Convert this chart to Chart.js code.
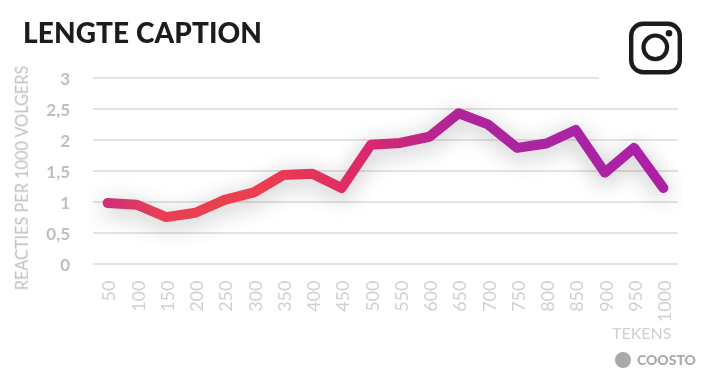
<!DOCTYPE html>
<html>
<head>
<meta charset="utf-8">
<title>Lengte caption</title>
<script src="https://cdn.jsdelivr.net/npm/chart.js@4"></script>
<style>
  html, body { margin: 0; padding: 0; background: #fff; }
  #wrap { position: relative; width: 713px; height: 379px; overflow: hidden; font-family: Lato, sans-serif; }
  #myChart { position: absolute; left: 0; top: 0; }
  .label { position: absolute; white-space: nowrap; line-height: 1; }
  #title { left: 23px; top: 18px; font-size: 28px; font-weight: 900; letter-spacing: 0.1px; color: #1d1b1e; }
  #yTitle { left: 22px; top: 178px; font-size: 16.3px; color: #bfbec1; transform: translate(-50%, -50%) rotate(-90deg); }
  #xTitle { left: 612px; top: 325px; font-size: 16px; color: #d0cfd1; }
  #brand { left: 637px; top: 353px; font-size: 14px; font-weight: 900; color: #a9a8ab; }
  #logoBox { position: absolute; left: 599px; top: 15px; width: 114px; height: 66px; background: #fff; }
  #brandDot { position: absolute; left: 615px; top: 352px; width: 16px; height: 16px; border-radius: 50%; background: #a9a8ab; }
</style>
</head>
<body>
<div id="wrap">
  <canvas id="myChart" width="713" height="379"></canvas>
  <div id="logoBox">
    <svg width="114" height="66" viewBox="599 15 114 66">
      <rect x="631.2" y="23.7" width="48.6" height="48.6" rx="12" fill="none" stroke="#1d1b1e" stroke-width="4.4"/>
      <circle cx="655.3" cy="47.3" r="11.8" fill="none" stroke="#1d1b1e" stroke-width="4.2"/>
      <circle cx="669" cy="33.3" r="3.3" fill="#1d1b1e"/>
    </svg>
  </div>
  <div class="label" id="title">LENGTE CAPTION</div>
  <div class="label" id="yTitle">REACTIES PER 1000 VOLGERS</div>
  <div class="label" id="xTitle">TEKENS</div>
  <div id="brandDot"></div>
  <div class="label" id="brand">COOSTO</div>
</div>

<script>
// ── Data ─────────────────────────────────────
const categories = ['50', '100', '150', '200', '250', '300', '350', '400', '450', '500',
                    '550', '600', '650', '700', '750', '800', '850', '900', '950', '1000'];
const reacties   = [0.98, 0.95, 0.75, 0.82, 1.03, 1.15, 1.43, 1.45, 1.22, 1.92,
                    1.95, 2.05, 2.43, 2.25, 1.87, 1.94, 2.16, 1.47, 1.87, 1.22];
const yTicks     = [0, 0.5, 1, 1.5, 2, 2.5, 3];

// Line colour runs from pink via red to purple, left to right
function lineGradient(context) {
  const area = context.chart.chartArea;
  if (!area) return '#e0245f';
  const g = context.chart.ctx.createLinearGradient(area.left, 0, area.right, 0);
  g.addColorStop(0.02, '#cf2f78');
  g.addColorStop(0.12, '#e93f55');
  g.addColorStop(0.28, '#ec3f4e');
  g.addColorStop(0.45, '#dd2a68');
  g.addColorStop(0.62, '#b0249a');
  g.addColorStop(0.80, '#aa24a4');
  g.addColorStop(1, '#ae1fa6');
  return g;
}

// Soft shadow under the line
const lineShadow = {
  id: 'lineShadow',
  beforeDatasetDraw(chart) {
    const ctx = chart.ctx;
    ctx.save();
    ctx.shadowColor = 'rgba(40, 30, 40, 0.32)';
    ctx.shadowBlur = 22;
    ctx.shadowOffsetY = 5;
  },
  afterDatasetDraw(chart) {
    chart.ctx.restore();
  }
};

new Chart(document.getElementById('myChart').getContext('2d'), {
  type: 'line',
  data: {
    labels: categories,
    datasets: [{
      data: reacties,
      borderColor: lineGradient,
      borderWidth: 10,
      borderCapStyle: 'round',
      borderJoinStyle: 'round',
      pointRadius: 0,
      tension: 0,
      fill: false
    }]
  },
  plugins: [lineShadow],
  options: {
    responsive: false,
    animation: false,
    layout: { padding: { top: 78, right: 35, left: 0, bottom: 0 } },
    plugins: { legend: { display: false }, tooltip: { enabled: false } },
    scales: {
      x: {
        offset: true,
        afterFit: scale => { scale.height = 115.5; },
        grid: { display: false },
        border: { display: false },
        ticks: {
          autoSkip: false,
          minRotation: 90,
          maxRotation: 90,
          padding: 9,
          labelOffset: 2,
          color: '#d0cfd1',
          font: { family: 'Lato', size: 18 }
        }
      },
      y: {
        min: 0,
        max: 3,
        afterFit: scale => { scale.width = 93; },
        afterBuildTicks: scale => { scale.ticks = yTicks.map(value => ({ value })); },
        grid: { color: '#e3e2e4', lineWidth: 2, drawTicks: false },
        border: { display: false },
        ticks: {
          padding: 23,
          labelOffset: 2,
          color: '#bfbdc0',
          font: { family: 'Lato', size: 17, weight: '700' },
          callback: v => String(v).replace('.', ',')
        }
      }
    }
  }
});
</script>
</body>
</html>
